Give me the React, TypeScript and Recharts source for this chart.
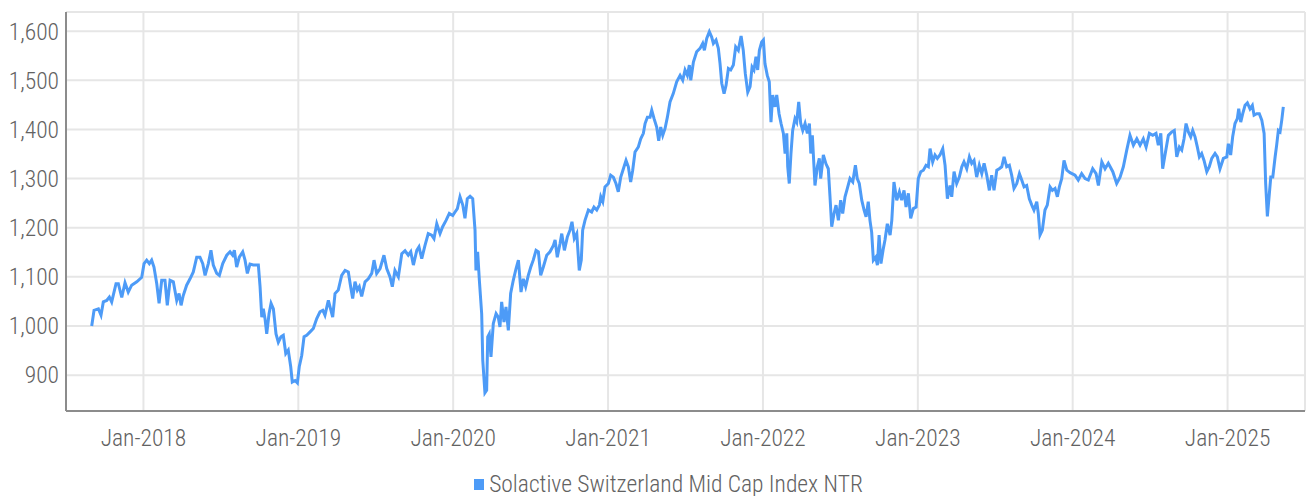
import React from "react";
import { LineChart, Line, XAxis, YAxis, CartesianGrid, Legend } from "recharts";

// Time as decimal year, index level
const years: number[] = [
  2017.666, 2017.681, 2017.709, 2017.726, 2017.741, 2017.763, 2017.78, 2017.795, 2017.823, 2017.838,
  2017.86, 2017.881, 2017.902, 2017.924, 2017.957, 2017.989, 2018.004, 2018.021, 2018.038, 2018.053,
  2018.068, 2018.086, 2018.101, 2018.118, 2018.139, 2018.154, 2018.172, 2018.193, 2018.215, 2018.23,
  2018.243, 2018.257, 2018.279, 2018.301, 2018.322, 2018.344, 2018.365, 2018.383, 2018.398, 2018.419,
  2018.436, 2018.451, 2018.473, 2018.49, 2018.512, 2018.538, 2018.559, 2018.576, 2018.587, 2018.602,
  2018.619, 2018.641, 2018.656, 2018.671, 2018.688, 2018.709, 2018.742, 2018.753, 2018.764, 2018.774,
  2018.785, 2018.796, 2018.811, 2018.824, 2018.839, 2018.856, 2018.871, 2018.888, 2018.903, 2018.919,
  2018.935, 2018.951, 2018.961, 2018.979, 2018.994, 2019.006, 2019.022, 2019.037, 2019.054, 2019.076,
  2019.097, 2019.119, 2019.14, 2019.158, 2019.172, 2019.194, 2019.222, 2019.237, 2019.258, 2019.28,
  2019.302, 2019.323, 2019.338, 2019.351, 2019.366, 2019.381, 2019.394, 2019.409, 2019.431, 2019.452,
  2019.474, 2019.489, 2019.506, 2019.528, 2019.553, 2019.571, 2019.592, 2019.607, 2019.624, 2019.646,
  2019.668, 2019.689, 2019.71, 2019.726, 2019.743, 2019.765, 2019.779, 2019.797, 2019.818, 2019.839,
  2019.861, 2019.876, 2019.894, 2019.915, 2019.932, 2019.954, 2019.975, 2019.997, 2020.012, 2020.027,
  2020.044, 2020.062, 2020.076, 2020.091, 2020.109, 2020.126, 2020.141, 2020.147, 2020.158, 2020.169,
  2020.184, 2020.191, 2020.205, 2020.216, 2020.223, 2020.233, 2020.244, 2020.259, 2020.277, 2020.291,
  2020.302, 2020.313, 2020.328, 2020.341, 2020.356, 2020.371, 2020.388, 2020.406, 2020.421, 2020.438,
  2020.453, 2020.468, 2020.485, 2020.501, 2020.517, 2020.535, 2020.55, 2020.565, 2020.582, 2020.604,
  2020.625, 2020.647, 2020.658, 2020.672, 2020.69, 2020.701, 2020.718, 2020.737, 2020.754, 2020.767,
  2020.782, 2020.798, 2020.814, 2020.827, 2020.836, 2020.851, 2020.873, 2020.894, 2020.909, 2020.927,
  2020.944, 2020.953, 2020.966, 2020.98, 2021.002, 2021.017, 2021.034, 2021.051, 2021.066, 2021.082,
  2021.099, 2021.116, 2021.131, 2021.146, 2021.159, 2021.174, 2021.195, 2021.211, 2021.228, 2021.239,
  2021.254, 2021.271, 2021.282, 2021.297, 2021.314, 2021.327, 2021.34, 2021.353, 2021.368, 2021.383,
  2021.4, 2021.421, 2021.443, 2021.465, 2021.482, 2021.497, 2021.512, 2021.525, 2021.534, 2021.551,
  2021.572, 2021.594, 2021.611, 2021.622, 2021.637, 2021.654, 2021.669, 2021.68, 2021.697, 2021.712,
  2021.723, 2021.734, 2021.749, 2021.762, 2021.777, 2021.792, 2021.809, 2021.824, 2021.841, 2021.859,
  2021.873, 2021.886, 2021.902, 2021.917, 2021.93, 2021.942, 2021.955, 2021.966, 2021.977, 2021.992,
  2022.003, 2022.013, 2022.028, 2022.041, 2022.052, 2022.063, 2022.078, 2022.089, 2022.104, 2022.117,
  2022.132, 2022.143, 2022.154, 2022.16, 2022.17, 2022.181, 2022.192, 2022.207, 2022.218, 2022.231,
  2022.244, 2022.257, 2022.272, 2022.287, 2022.3, 2022.309, 2022.319, 2022.336, 2022.351, 2022.364,
  2022.373, 2022.39, 2022.407, 2022.422, 2022.433, 2022.444, 2022.459, 2022.472, 2022.487, 2022.502,
  2022.515, 2022.53, 2022.545, 2022.562, 2022.58, 2022.597, 2022.609, 2022.622, 2022.638, 2022.653,
  2022.666, 2022.68, 2022.691, 2022.702, 2022.713, 2022.728, 2022.739, 2022.75, 2022.762, 2022.777,
  2022.788, 2022.803, 2022.821, 2022.832, 2022.846, 2022.864, 2022.881, 2022.896, 2022.911, 2022.924,
  2022.939, 2022.954, 2022.971, 2022.989, 2023.003, 2023.019, 2023.036, 2023.053, 2023.068, 2023.079,
  2023.096, 2023.111, 2023.126, 2023.143, 2023.161, 2023.176, 2023.191, 2023.208, 2023.219, 2023.234,
  2023.251, 2023.268, 2023.284, 2023.298, 2023.316, 2023.333, 2023.348, 2023.363, 2023.38, 2023.397,
  2023.413, 2023.428, 2023.445, 2023.462, 2023.477, 2023.492, 2023.51, 2023.526, 2023.542, 2023.557,
  2023.574, 2023.591, 2023.606, 2023.621, 2023.639, 2023.656, 2023.671, 2023.686, 2023.703, 2023.72,
  2023.736, 2023.75, 2023.768, 2023.778, 2023.789, 2023.804, 2023.821, 2023.836, 2023.854, 2023.869,
  2023.886, 2023.901, 2023.914, 2023.929, 2023.944, 2023.962, 2023.983, 2024.015, 2024.036, 2024.058,
  2024.08, 2024.101, 2024.129, 2024.151, 2024.166, 2024.188, 2024.209, 2024.23, 2024.259, 2024.284,
  2024.306, 2024.327, 2024.349, 2024.37, 2024.392, 2024.414, 2024.435, 2024.456, 2024.474, 2024.495,
  2024.517, 2024.538, 2024.553, 2024.569, 2024.581, 2024.596, 2024.618, 2024.64, 2024.656, 2024.672,
  2024.689, 2024.704, 2024.719, 2024.732, 2024.747, 2024.762, 2024.775, 2024.79, 2024.805, 2024.818,
  2024.833, 2024.848, 2024.866, 2024.882, 2024.898, 2024.919, 2024.934, 2024.951, 2024.973, 2024.995,
  2025.005, 2025.02, 2025.033, 2025.048, 2025.063, 2025.072, 2025.085, 2025.098, 2025.113, 2025.128,
  2025.145, 2025.16, 2025.171, 2025.188, 2025.205, 2025.221, 2025.236, 2025.246, 2025.257, 2025.268,
  2025.279, 2025.292, 2025.307, 2025.317, 2025.328, 2025.339, 2025.35, 2025.36,
];

const indexValues: number[] = [
  1000, 1032, 1035, 1022, 1049, 1052, 1059, 1049, 1086, 1086,
  1058, 1088, 1069, 1083, 1090, 1099, 1127, 1134, 1127, 1134,
  1120, 1086, 1046, 1093, 1093, 1042, 1093, 1090, 1052, 1066,
  1042, 1062, 1083, 1096, 1110, 1140, 1140, 1127, 1103, 1127,
  1154, 1124, 1107, 1103, 1127, 1144, 1151, 1144, 1154, 1120,
  1140, 1151, 1134, 1107, 1126, 1124, 1124, 1080, 1018, 1035,
  1015, 984, 1025, 1046, 1035, 984, 967, 978, 981, 944,
  951, 917, 886, 889, 884, 917, 940, 978, 981, 988,
  995, 1015, 1029, 1032, 1022, 1052, 1018, 1066, 1073, 1103,
  1113, 1110, 1080, 1056, 1090, 1073, 1080, 1060, 1090, 1096,
  1107, 1134, 1107, 1117, 1144, 1117, 1100, 1080, 1113, 1100,
  1147, 1153, 1144, 1151, 1124, 1154, 1161, 1137, 1164, 1188,
  1185, 1178, 1208, 1188, 1202, 1215, 1229, 1225, 1232, 1239,
  1263, 1246, 1219, 1259, 1264, 1259, 1195, 1113, 1151, 1093,
  1025, 930, 864, 869, 978, 984, 937, 1005, 1025, 1018,
  998, 1049, 1008, 1039, 991, 1066, 1093, 1117, 1134, 1069,
  1096, 1080, 1103, 1120, 1134, 1154, 1151, 1103, 1120, 1144,
  1151, 1164, 1175, 1140, 1168, 1188, 1154, 1181, 1195, 1212,
  1178, 1188, 1113, 1134, 1195, 1215, 1236, 1232, 1242, 1236,
  1246, 1263, 1253, 1283, 1290, 1307, 1303, 1290, 1273, 1303,
  1320, 1337, 1324, 1293, 1317, 1354, 1364, 1381, 1392, 1412,
  1425, 1425, 1439, 1422, 1405, 1377, 1405, 1388, 1402, 1425,
  1456, 1473, 1497, 1510, 1500, 1521, 1510, 1531, 1500, 1537,
  1558, 1565, 1575, 1561, 1585, 1599, 1588, 1575, 1582, 1565,
  1534, 1494, 1473, 1490, 1524, 1521, 1531, 1568, 1561, 1590,
  1561, 1514, 1476, 1487, 1527, 1521, 1548, 1521, 1561, 1578,
  1582, 1534, 1510, 1497, 1415, 1470, 1446, 1470, 1432, 1412,
  1392, 1351, 1392, 1324, 1290, 1351, 1398, 1422, 1415, 1456,
  1412, 1398, 1412, 1392, 1412, 1351, 1388, 1286, 1324, 1341,
  1300, 1348, 1330, 1320, 1263, 1202, 1229, 1246, 1215, 1256,
  1229, 1263, 1280, 1300, 1293, 1327, 1300, 1290, 1256, 1236,
  1222, 1253, 1215, 1191, 1134, 1140, 1124, 1185, 1127, 1157,
  1175, 1208, 1185, 1215, 1293, 1256, 1273, 1256, 1276, 1242,
  1270, 1219, 1239, 1242, 1300, 1314, 1317, 1327, 1324, 1361,
  1334, 1348, 1341, 1348, 1361, 1327, 1259, 1286, 1263, 1314,
  1290, 1303, 1324, 1334, 1320, 1344, 1331, 1337, 1303, 1327,
  1310, 1331, 1307, 1276, 1307, 1276, 1317, 1320, 1324, 1344,
  1324, 1327, 1307, 1280, 1290, 1310, 1297, 1283, 1286, 1259,
  1246, 1236, 1253, 1229, 1185, 1195, 1236, 1246, 1283, 1276,
  1280, 1263, 1283, 1300, 1337, 1317, 1312, 1307, 1297, 1310,
  1300, 1297, 1320, 1310, 1286, 1334, 1320, 1331, 1314, 1290,
  1303, 1324, 1358, 1388, 1368, 1381, 1368, 1381, 1364, 1392,
  1388, 1392, 1368, 1392, 1320, 1348, 1388, 1395, 1398, 1344,
  1364, 1358, 1381, 1412, 1395, 1385, 1398, 1385, 1364, 1344,
  1351, 1337, 1314, 1324, 1341, 1351, 1344, 1320, 1341, 1344,
  1371, 1348, 1385, 1412, 1422, 1442, 1415, 1432, 1449, 1454,
  1442, 1449, 1429, 1432, 1432, 1419, 1392, 1290, 1223, 1263,
  1303, 1303, 1344, 1368, 1398, 1395, 1419, 1446,
];

const yearTicks: number[] = [2018, 2019, 2020, 2021, 2022, 2023, 2024, 2025];
const valueTicks: number[] = [900, 1000, 1100, 1200, 1300, 1400, 1500, 1600];
const seriesName = "Solactive Switzerland Mid Cap Index NTR";

const data = years.map((t, i) => ({ t, v: indexValues[i] }));

const FONT = "'Liberation Sans Narrow', 'Roboto Condensed', 'DejaVu Sans Condensed', sans-serif";
const TEXT = "#626262";
const LINE = "#4d9bf7";
const FS = 23.5;

const fmtNum = (v: number) => v.toLocaleString("en-US");
const fmtYear = (v: number) => `Jan-${v}`;

const LegendContent = () => (
  <div
    style={{
      height: 35,
      display: "flex",
      justifyContent: "center",
      alignItems: "center",
      paddingTop: 11,
      paddingLeft: 32,
      boxSizing: "border-box",
      fontFamily: FONT,
      fontSize: FS,
      fontWeight: 300,
      color: TEXT,
    }}
  >
    <span style={{ width: 10, height: 11, background: LINE, display: "inline-block", marginRight: 5 }} />
    <span style={{ lineHeight: "26px" }}>{seriesName}</span>
  </div>
);

export default function App() {
  return (
    <div style={{ position: "absolute", left: 0, top: 0 }}>
      <LineChart width={1306} height={496} data={data} margin={{ top: 12, right: 1, bottom: 0, left: 0 }}>
        <CartesianGrid stroke="#e6e6e6" strokeWidth={2} />
        <XAxis
          type="number"
          dataKey="t"
          domain={[2017.5, 2025.5]}
          ticks={yearTicks}
          tickFormatter={fmtYear}
          allowDataOverflow
          height={50}
          tickLine={false}
          tickSize={6}
          tickMargin={12}
          axisLine={{ stroke: "#8c8c8c", strokeWidth: 2 }}
          tick={{ fill: TEXT, fontSize: FS, fontFamily: FONT, fontWeight: 300 }}
        />
        <YAxis
          type="number"
          domain={[827, 1639]}
          ticks={valueTicks}
          tickFormatter={fmtNum}
          allowDataOverflow
          width={66}
          tickLine={false}
          tickSize={7}
          tickMargin={0}
          axisLine={{ stroke: "#8c8c8c", strokeWidth: 2 }}
          tick={{ fill: TEXT, fontSize: FS, fontFamily: FONT, fontWeight: 300 }}
        />
        <Legend verticalAlign="bottom" content={<LegendContent />} />
        <Line
          type="linear"
          dataKey="v"
          name={seriesName}
          stroke={LINE}
          strokeWidth={3}
          dot={false}
          isAnimationActive={false}
        />
      </LineChart>
    </div>
  );
}
